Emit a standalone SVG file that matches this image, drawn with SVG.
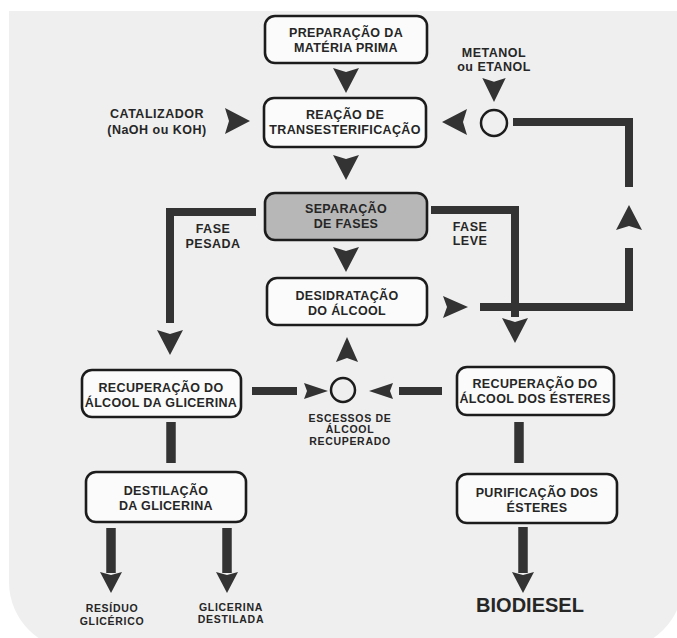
<svg xmlns="http://www.w3.org/2000/svg" width="677" height="638" viewBox="0 0 677 638">
<style>
.bg{fill:#efefef}
.box{fill:#fbfbfb;stroke:#1c1c1c;stroke-width:2.6}
.gray{fill:#b7b7b7}
.t{font-family:"Liberation Sans",Arial,sans-serif;font-weight:bold;fill:#262626;text-anchor:middle;font-size:12.5px;letter-spacing:0.35px}
.l{font-family:"Liberation Sans",Arial,sans-serif;font-weight:bold;fill:#262626;text-anchor:middle;font-size:12.5px;letter-spacing:0.5px}
.s{font-family:"Liberation Sans",Arial,sans-serif;font-weight:bold;fill:#262626;text-anchor:middle;font-size:10.5px;letter-spacing:0.7px}
.big{font-family:"Liberation Sans",Arial,sans-serif;font-weight:bold;fill:#262626;text-anchor:middle;font-size:20px}
.ln{fill:none;stroke:#333;stroke-width:8;stroke-linejoin:miter}
.lv{fill:none;stroke:#333;stroke-width:9.5}
.ah{fill:#333}
.cir{fill:none;stroke:#1c1c1c;stroke-width:2.5}
</style>
<defs>
<path id="ah" class="ah" d="M-13,-25 L0,-21 L13,-25 L0,0 Z"/>
<path id="ahs" class="ah" d="M-8,-24 L0,-21 L8,-24 L0,0 Z"/>
<path id="ahb" class="ah" d="M-11,-21 L0,-18 L11,-21 L0,0 Z"/>
</defs>
<path class="bg" d="M9,11 H683 V582 A68,68 0 0 1 615,650 H77 A68,68 0 0 1 9,582 Z"/>

<g id="connectors">
<path class="ln" d="M256,212 H170 V323"/>
<path class="ln" d="M431,210 H515 V317"/>
<path class="ln" d="M513,122 H629 V187"/>
<path class="ln" d="M629,248 V307 H480"/>
<path class="ln" d="M252,391 H297"/>
<path class="ln" d="M442,391 H399"/>
<path class="lv" d="M171,422 V463"/>
<path class="lv" d="M519,422 V463"/>
<path class="lv" d="M111,528 V573"/>
<path class="lv" d="M227,528 V573"/>
<path class="lv" d="M523,527 V573"/>
<use href="#ah" transform="translate(346,93)"/>
<use href="#ah" transform="translate(346,180)"/>
<use href="#ah" transform="translate(346,272)"/>
<use href="#ah" transform="translate(250,121) rotate(-90)"/>
<use href="#ah" transform="translate(494,102) scale(0.9,0.96)"/>
<use href="#ah" transform="translate(442,122) rotate(90)"/>
<use href="#ah" transform="translate(629,205) rotate(180)"/>
<use href="#ah" transform="translate(170,355)"/>
<use href="#ah" transform="translate(515,343)"/>
<use href="#ah" transform="translate(468,307) rotate(-90) scale(0.85,1)"/>
<use href="#ah" transform="translate(347,337) rotate(180) scale(0.85,1)"/>
<use href="#ahs" transform="translate(328,391) rotate(-90)"/>
<use href="#ahs" transform="translate(369,391) rotate(90)"/>
<use href="#ahb" transform="translate(111,593)"/>
<use href="#ahb" transform="translate(227,593)"/>
<use href="#ahb" transform="translate(523,593)"/>
<circle class="cir" cx="494" cy="123" r="13"/>
<circle class="cir" cx="343" cy="390" r="12"/>
</g>

<g id="n-preparacao">
<rect class="box" x="265" y="16" width="162" height="47" rx="10"/>
<text class="t" x="346" y="37">PREPARAÇÃO DA</text>
<text class="t" x="346" y="52">MATÉRIA PRIMA</text>
</g>
<g id="n-reacao">
<rect class="box" x="264" y="98" width="162" height="49" rx="10"/>
<text class="t" x="345" y="119">REAÇÃO DE</text>
<text class="t" x="345" y="134">TRANSESTERIFICAÇÃO</text>
</g>
<g id="n-separacao">
<rect class="box gray" x="265" y="193" width="162" height="47" rx="10"/>
<text class="t" x="346" y="213">SEPARAÇÃO</text>
<text class="t" x="346" y="228">DE FASES</text>
</g>
<g id="n-desidratacao">
<rect class="box" x="267" y="278" width="160" height="47" rx="10"/>
<text class="t" x="347" y="300">DESIDRATAÇÃO</text>
<text class="t" x="347" y="315">DO ÁLCOOL</text>
</g>
<g id="n-rec-glicerina">
<rect class="box" x="82" y="370" width="159" height="47" rx="10"/>
<text class="t" x="161" y="392">RECUPERAÇÃO DO</text>
<text class="t" x="161" y="407">ÁLCOOL DA GLICERINA</text>
</g>
<g id="n-rec-esteres">
<rect class="box" x="457" y="367" width="157" height="48" rx="10"/>
<text class="t" x="535" y="388">RECUPERAÇÃO DO</text>
<text class="t" x="535" y="403">ÁLCOOL DOS ÉSTERES</text>
</g>
<g id="n-destilacao">
<rect class="box" x="86" y="472" width="160" height="50" rx="10"/>
<text class="t" x="166" y="495">DESTILAÇÃO</text>
<text class="t" x="166" y="510">DA GLICERINA</text>
</g>
<g id="n-purificacao">
<rect class="box" x="457" y="474" width="160" height="49" rx="10"/>
<text class="t" x="537" y="497">PURIFICAÇÃO DOS</text>
<text class="t" x="537" y="512">ÉSTERES</text>
</g>

<g id="labels">
<text class="l" x="157" y="118">CATALIZADOR</text>
<text class="l" x="157" y="134">(NaOH ou KOH)</text>
<text class="l" x="494" y="57">METANOL</text>
<text class="l" x="494" y="71">ou ETANOL</text>
<text class="l" x="213" y="233">FASE</text>
<text class="l" x="213" y="248">PESADA</text>
<text class="l" x="470" y="231">FASE</text>
<text class="l" x="470" y="245">LEVE</text>
<text class="s" x="350" y="422">ESCESSOS DE</text>
<text class="s" x="350" y="433">ÁLCOOL</text>
<text class="s" x="350" y="445">RECUPERADO</text>
<text class="s" x="112" y="612">RESÍDUO</text>
<text class="s" x="112" y="625">GLICÉRICO</text>
<text class="s" x="231" y="611">GLICERINA</text>
<text class="s" x="231" y="623">DESTILADA</text>
<text class="big" x="530" y="612">BIODIESEL</text>
</g>
</svg>
